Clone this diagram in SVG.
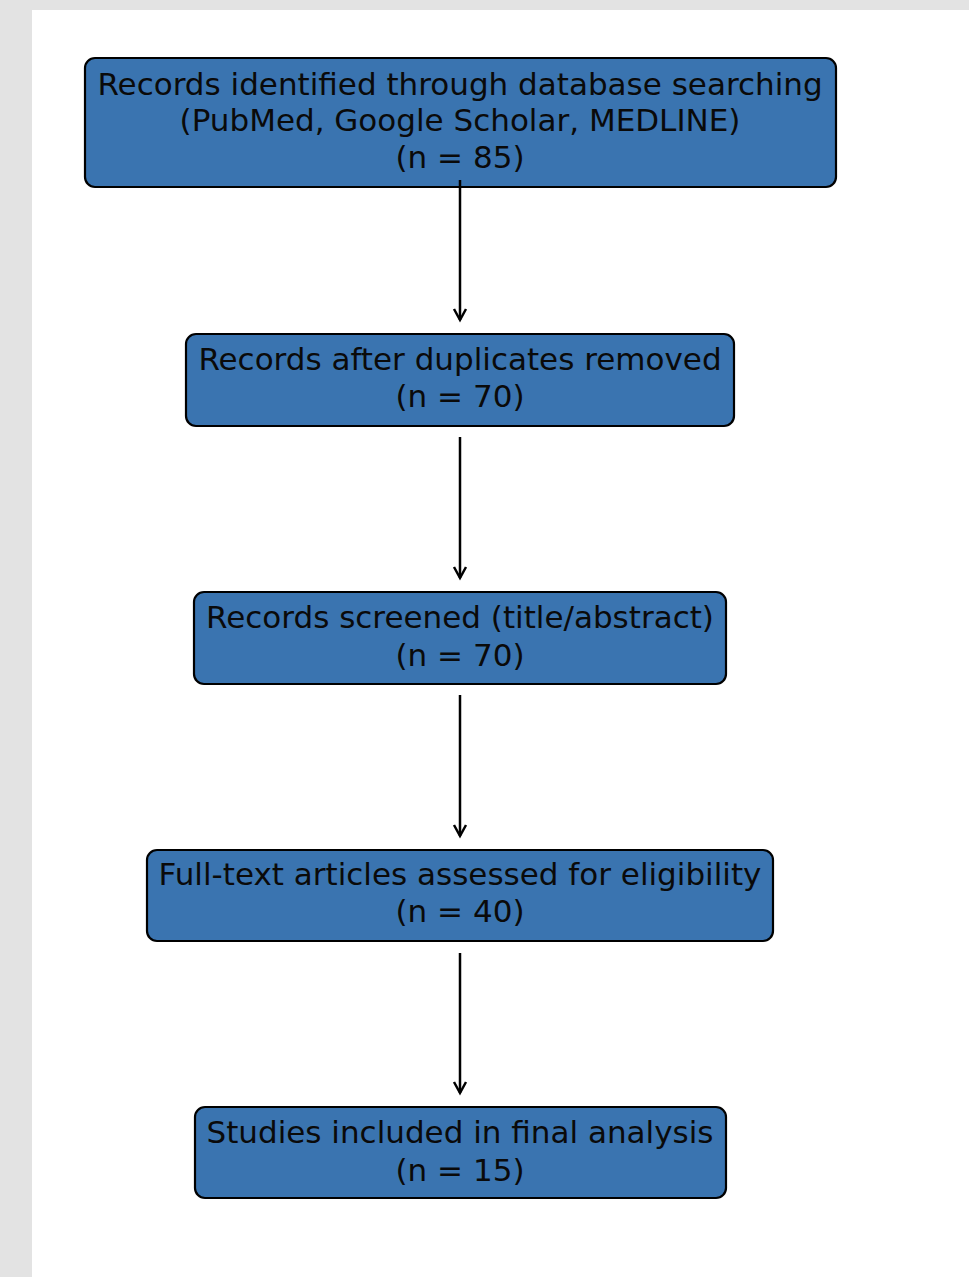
<svg xmlns="http://www.w3.org/2000/svg" width="969" height="1277" viewBox="0 0 969 1277">
<style>
.box{fill:#3a74b0;stroke:#000;stroke-width:2.2}
.t{font-family:"DejaVu Sans",sans-serif;font-size:31px;fill:#0a0a0a;text-anchor:middle}
.c{stroke:#000;stroke-width:2.5;fill:none}
</style>
<defs>
<marker id="ah" markerWidth="18" markerHeight="18" refX="15" refY="8" orient="auto" markerUnits="userSpaceOnUse">
<path d="M4,2 L15,8 L4,14" fill="none" stroke="#000" stroke-width="2.5"/>
</marker>
</defs>
<rect width="969" height="1277" fill="#e3e3e3"/>
<rect x="32" y="10" width="937" height="1267" fill="#fff"/>
<g id="n1">
<rect class="box" x="85" y="58" width="751" height="129" rx="10"/>
<text class="t" x="460" y="95">Records identified through database searching</text>
<text class="t" x="460" y="131">(PubMed, Google Scholar, MEDLINE)</text>
<text class="t" x="460" y="168">(n = 85)</text>
</g>
<g id="n2">
<rect class="box" x="186" y="334" width="548" height="92" rx="10"/>
<text class="t" x="460" y="370">Records after duplicates removed</text>
<text class="t" x="460" y="407">(n = 70)</text>
</g>
<g id="n3">
<rect class="box" x="194" y="592" width="532" height="92" rx="10"/>
<text class="t" x="460" y="628">Records screened (title/abstract)</text>
<text class="t" x="460" y="666">(n = 70)</text>
</g>
<g id="n4">
<rect class="box" x="147" y="850" width="626" height="91" rx="10"/>
<text class="t" x="460" y="885">Full-text articles assessed for eligibility</text>
<text class="t" x="460" y="922">(n = 40)</text>
</g>
<g id="n5">
<rect class="box" x="195" y="1107" width="531" height="91" rx="10"/>
<text class="t" x="460" y="1143">Studies included in final analysis</text>
<text class="t" x="460" y="1181">(n = 15)</text>
</g>
<g id="connectors">
<path class="c" d="M460,180 V320" marker-end="url(#ah)"/>
<path class="c" d="M460,437 V578" marker-end="url(#ah)"/>
<path class="c" d="M460,695 V836" marker-end="url(#ah)"/>
<path class="c" d="M460,953 V1093" marker-end="url(#ah)"/>
</g>
</svg>
